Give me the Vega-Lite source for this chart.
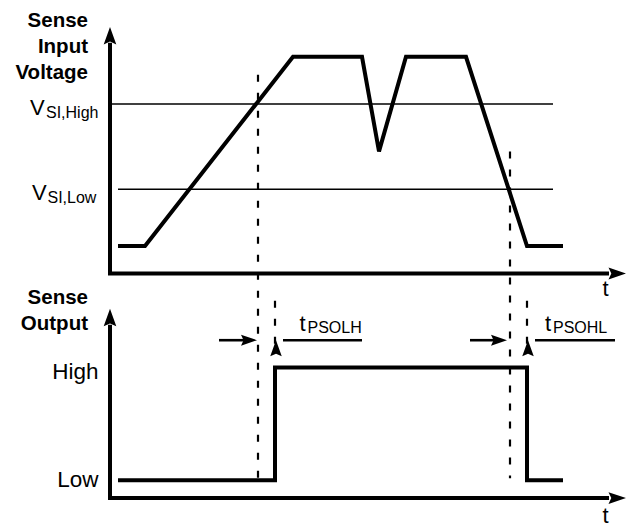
{
  "$schema": "https://vega.github.io/schema/vega-lite/v6.json",
  "width": 628,
  "height": 527,
  "autosize": {"type": "fit", "contains": "padding"},
  "padding": 0,
  "background": "white",
  "config": {"view": {"stroke": null}},
  "datasets": {
    "wave": [
      {"s": "axTop", "i": 0, "x": 110, "y": 43},
      {"s": "axTop", "i": 1, "x": 110, "y": 274.5},
      {"s": "axTop", "i": 2, "x": 609, "y": 274.5},
      {"s": "axBot", "i": 0, "x": 110, "y": 326},
      {"s": "axBot", "i": 1, "x": 110, "y": 500},
      {"s": "axBot", "i": 2, "x": 609, "y": 500},
      {"s": "in", "i": 0, "x": 118, "y": 247},
      {"s": "in", "i": 1, "x": 145, "y": 247},
      {"s": "in", "i": 2, "x": 293, "y": 57},
      {"s": "in", "i": 3, "x": 362, "y": 57},
      {"s": "in", "i": 4, "x": 379, "y": 152},
      {"s": "in", "i": 5, "x": 406, "y": 57},
      {"s": "in", "i": 6, "x": 466, "y": 57},
      {"s": "in", "i": 7, "x": 527, "y": 247},
      {"s": "in", "i": 8, "x": 563, "y": 247},
      {"s": "out", "i": 0, "x": 118, "y": 482},
      {"s": "out", "i": 1, "x": 275, "y": 482},
      {"s": "out", "i": 2, "x": 275, "y": 369},
      {"s": "out", "i": 3, "x": 527, "y": 369},
      {"s": "out", "i": 4, "x": 527, "y": 482},
      {"s": "out", "i": 5, "x": 563, "y": 482}
    ],
    "thresholds": [
      {"name": "VSI,High", "x": 110, "x2": 553, "y": 104.5},
      {"name": "VSI,Low", "x": 118, "x2": 553, "y": 190}
    ],
    "dashes": [
      {"x": 258, "y": 75, "y2": 490},
      {"x": 510, "y": 152, "y2": 480},
      {"x": 275, "y": 302, "y2": 350},
      {"x": 527, "y": 302, "y2": 350}
    ],
    "shafts": [
      {"x": 219, "x2": 250, "y": 341.5},
      {"x": 283, "x2": 362, "y": 341.5},
      {"x": 470, "x2": 500, "y": 341.5},
      {"x": 535, "x2": 615, "y": 341.5}
    ],
    "axisHeads": [
      {"x": 110, "y": 27, "dir": "up"},
      {"x": 626, "y": 274.5, "dir": "right"},
      {"x": 110, "y": 310, "dir": "up"},
      {"x": 626, "y": 500, "dir": "right"}
    ],
    "timeHeads": [
      {"x": 257, "y": 341.5, "dir": "right"},
      {"x": 276, "y": 341.5, "dir": "left"},
      {"x": 507, "y": 341.5, "dir": "right"},
      {"x": 528, "y": 341.5, "dir": "left"}
    ],
    "titles": [
      {"text": "Sense", "x": 88, "y": 27.5},
      {"text": "Input", "x": 88, "y": 53},
      {"text": "Voltage", "x": 88, "y": 79},
      {"text": "Sense", "x": 88, "y": 305},
      {"text": "Output", "x": 88, "y": 331}
    ],
    "levels": [
      {"text": "High", "x": 98.5, "y": 380},
      {"text": "Low", "x": 98.5, "y": 489}
    ],
    "bigLeft": [
      {"text": "V", "x": 30, "y": 115.5},
      {"text": "V", "x": 32, "y": 200.5},
      {"text": "t", "x": 602.5, "y": 297},
      {"text": "t", "x": 602.5, "y": 525},
      {"text": "t", "x": 299.5, "y": 332.5},
      {"text": "t", "x": 545, "y": 332.5}
    ],
    "subs": [
      {"text": "SI,High", "x": 46, "y": 118.5},
      {"text": "SI,Low", "x": 47.5, "y": 203.5},
      {"text": "PSOLH", "x": 307.5, "y": 334},
      {"text": "PSOHL", "x": 553, "y": 334}
    ]
  },
  "encoding": {
    "x": {"field": "x", "type": "quantitative", "scale": {"domain": [0, 628], "nice": false, "zero": false}, "axis": null},
    "y": {"field": "y", "type": "quantitative", "scale": {"domain": [527, 0], "nice": false, "zero": false}, "axis": null}
  },
  "layer": [
    {
      "data": {"name": "thresholds"},
      "mark": {"type": "rule", "color": "black", "strokeWidth": 1.5},
      "encoding": {"x2": {"field": "x2"}}
    },
    {
      "data": {"name": "dashes"},
      "mark": {"type": "rule", "color": "black", "strokeWidth": 2.2, "strokeDash": [7, 11]},
      "encoding": {"y2": {"field": "y2"}}
    },
    {
      "data": {"name": "shafts"},
      "mark": {"type": "rule", "color": "black", "strokeWidth": 2.6},
      "encoding": {"x2": {"field": "x2"}}
    },
    {
      "data": {"name": "wave"},
      "mark": {"type": "line", "color": "black", "strokeWidth": 4, "strokeJoin": "miter", "strokeCap": "butt"},
      "encoding": {
        "detail": {"field": "s", "type": "nominal"},
        "order": {"field": "i", "type": "quantitative"}
      }
    },
    {
      "data": {"name": "axisHeads"},
      "mark": {"type": "point", "filled": true, "color": "black", "opacity": 1, "size": 4900, "strokeWidth": 0},
      "encoding": {
        "shape": {"field": "dir", "type": "nominal", "legend": null,
          "scale": {"domain": ["up", "right"], "range": ["M0,0L0.18,0.5L0,0.42L-0.18,0.5Z", "M0,0L-0.5,-0.17L-0.42,0L-0.5,0.17Z"]}}
      }
    },
    {
      "data": {"name": "timeHeads"},
      "mark": {"type": "point", "filled": true, "color": "black", "opacity": 1, "size": 4096, "strokeWidth": 0},
      "encoding": {
        "shape": {"field": "dir", "type": "nominal", "legend": null,
          "scale": {"domain": ["right", "left"], "range": ["M0,0L-0.52,-0.19L-0.42,0L-0.52,0.19Z", "M0,0L0.52,-0.19L0.42,0L0.52,0.19Z"]}}
      }
    },
    {
      "data": {"name": "titles"},
      "mark": {"type": "text", "font": "Liberation Sans", "fontWeight": "bold", "fontSize": 20.5, "align": "right", "baseline": "alphabetic", "color": "black"},
      "encoding": {"text": {"field": "text"}}
    },
    {
      "data": {"name": "levels"},
      "mark": {"type": "text", "font": "Liberation Sans", "fontSize": 22.5, "align": "right", "baseline": "alphabetic", "color": "black"},
      "encoding": {"text": {"field": "text"}}
    },
    {
      "data": {"name": "bigLeft"},
      "mark": {"type": "text", "font": "Liberation Sans", "fontSize": 22, "align": "left", "baseline": "alphabetic", "color": "black"},
      "encoding": {"text": {"field": "text"}}
    },
    {
      "data": {"name": "subs"},
      "mark": {"type": "text", "font": "Liberation Sans", "fontSize": 16, "align": "left", "baseline": "alphabetic", "color": "black"},
      "encoding": {"text": {"field": "text"}}
    }
  ]
}
